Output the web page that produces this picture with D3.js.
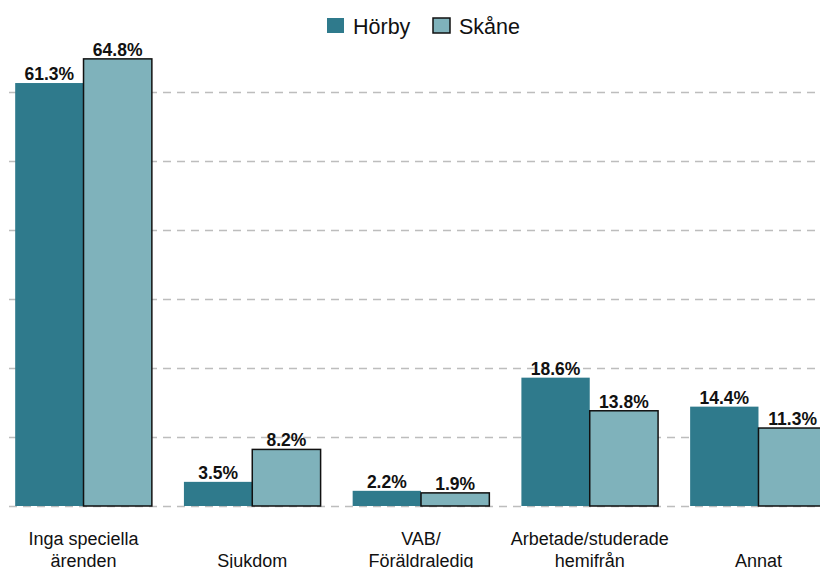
<!DOCTYPE html>
<html>
<head>
<meta charset="utf-8">
<script src="https://cdn.jsdelivr.net/npm/d3@7"></script>
<style>
body { margin: 0; background: #fff; }
svg { font-family: "Liberation Sans", Arial, sans-serif; }
</style>
</head>
<body>
<svg width="820" height="568"></svg>
<script>
var categories = [["Inga speciella", "ärenden"], ["", "Sjukdom"], ["VAB/", "Föräldraledig"], ["Arbetade/studerade", "hemifrån"], ["", "Annat"]];
var series = ["Hörby", "Skåne"];
var horby = [61.3, 3.5, 2.2, 18.6, 14.4];
var skane = [64.8, 8.2, 1.9, 13.8, 11.3];
var gridTicks = [0, 10, 20, 30, 40, 50, 60];
var colors = ["#2f7a8c", "#7fb2bb"];

var svg = d3.select("svg");
var catKeys = categories.map(function (c, i) { return i; });

var x = d3.scaleBand().domain(catKeys).range([0, 842]).paddingInner(0.19).paddingOuter(0.09);
var x1 = d3.scaleBand().domain(series).range([0, x.bandwidth()]);
var y = d3.scaleLinear().domain([0, 10]).range([506, 437]);

// gridlines
svg.append("g").selectAll("line")
    .data(gridTicks)
    .enter().append("line")
    .attr("x1", 9).attr("x2", 820)
    .attr("y1", function (d) { return y(d) + 0.5; })
    .attr("y2", function (d) { return y(d) + 0.5; })
    .attr("stroke", "#bdbdbd")
    .attr("stroke-width", 1.5)
    .attr("stroke-dasharray", "8,6");

var rows = catKeys.map(function (i) {
    return [{ s: "Hörby", v: horby[i] }, { s: "Skåne", v: skane[i] }];
});

var groups = svg.append("g").selectAll("g")
    .data(rows)
    .enter().append("g")
    .attr("transform", function (d, i) { return "translate(" + x(i) + ",0)"; });

groups.selectAll("rect")
    .data(function (d) { return d; })
    .enter().append("rect")
    .attr("x", function (d) { return x1(d.s); })
    .attr("y", function (d) { return y(d.v); })
    .attr("width", x1.bandwidth())
    .attr("height", function (d) { return y(0) - y(d.v); })
    .attr("fill", function (d, i) { return colors[i]; })
    .attr("stroke", function (d, i) { return i == 1 ? "#111" : "none"; })
    .attr("stroke-width", 1.5);

groups.selectAll("text")
    .data(function (d) { return d; })
    .enter().append("text")
    .attr("x", function (d) { return x1(d.s) + x1.bandwidth() / 2; })
    .attr("y", function (d) { return y(d.v) - 3; })
    .attr("text-anchor", "middle")
    .attr("font-size", 17.5)
    .attr("font-weight", "bold")
    .attr("fill", "#111")
    .text(function (d) { return d.v.toFixed(1) + "%"; });

// category labels
var labels = svg.append("g").selectAll("text")
    .data(categories)
    .enter().append("text")
    .attr("text-anchor", "middle")
    .attr("font-size", 18)
    .attr("fill", "#111");
labels.each(function (d, i) {
    var t = d3.select(this);
    var cx = x(i) + x.bandwidth() / 2;
    t.append("tspan").attr("x", cx).attr("y", 545).text(d[0]);
    t.append("tspan").attr("x", cx).attr("y", 567).text(d[1]);
});

// legend
var legend = svg.append("g").selectAll("g")
    .data(series)
    .enter().append("g")
    .attr("transform", function (d, i) { return "translate(" + (327 + i * 106) + ",18)"; });
legend.append("rect")
    .attr("width", 17).attr("height", 15)
    .attr("fill", function (d, i) { return colors[i]; })
    .attr("stroke", function (d, i) { return i == 1 ? "#111" : "none"; })
    .attr("stroke-width", 1.5);
legend.append("text")
    .attr("x", 26).attr("y", 16)
    .attr("font-size", 21.5)
    .attr("fill", "#111")
    .text(function (d) { return d; });
</script>
</body>
</html>
